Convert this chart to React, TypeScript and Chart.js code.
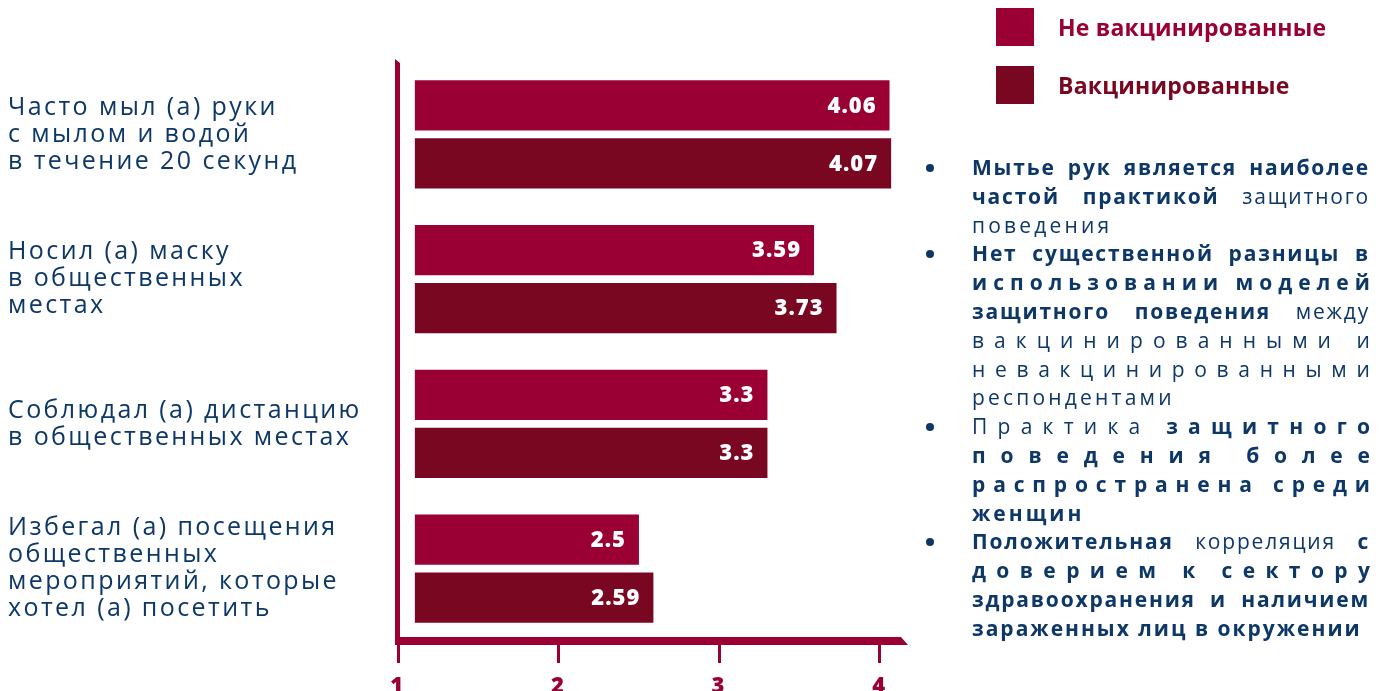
import React, { useEffect, useRef } from "react";
import { Chart, registerables } from "chart.js";

Chart.register(...registerables);

// ---------- DATA ----------
const categories: string[][] = [
  ["Часто мыл (а) руки", "с мылом и водой", "в течение 20 секунд"],
  ["Носил (а) маску", "в общественных", "местах"],
  ["Соблюдал (а) дистанцию", "в общественных местах"],
  ["Избегал (а) посещения", "общественных", "мероприятий, которые", "хотел (а) посетить"],
];
const seriesNames = ["Не вакцинированные", "Вакцинированные"];
const unvaccinated = [4.06, 3.59, 3.3, 2.5];
const vaccinated = [4.07, 3.73, 3.3, 2.59];
const xTickValues = [1, 2, 3, 4];

type Seg = [string, boolean];
type Line = { start?: boolean; mode: "word" | "char" | "left"; segs: Seg[]; ls?: number };
const bulletLines: Line[] = [
  { start: true, mode: "word", segs: [["Мытье рук является наиболее", true]] },
  { mode: "word", segs: [["частой практикой", true], [" защитного", false]] },
  { mode: "left", segs: [["поведения", false]], ls: 3.2 },
  { start: true, mode: "word", segs: [["Нет существенной разницы в", true]] },
  { mode: "char", segs: [["использовании моделей", true]] },
  { mode: "word", segs: [["защитного поведения", true], [" между", false]] },
  { mode: "char", segs: [["вакцинированными и", false]] },
  { mode: "char", segs: [["невакцинированными", false]] },
  { mode: "left", segs: [["респондентами", false]], ls: 3.2 },
  { start: true, mode: "char", segs: [["Практика ", false], ["защитного", true]] },
  { mode: "char", segs: [["поведения более", true]] },
  { mode: "char", segs: [["распространена среди", true]] },
  { mode: "left", segs: [["женщин", true]], ls: 3 },
  { start: true, mode: "word", segs: [["Положительная", true], [" корреляция ", false], ["с", true]] },
  { mode: "char", segs: [["доверием к сектору", true]] },
  { mode: "word", segs: [["здравоохранения и наличием", true]] },
  { mode: "left", segs: [["зараженных лиц в окружении", true]], ls: 2 },
];

// ---------- STYLE ----------
const CRIMSON = "#9b0035";
const DARK = "#790722";
const NAVY = "#0c3767";
const FONT = "'Open Sans', 'Noto Sans', sans-serif";

const W = 1387;
const H = 691;

const spacingPlugin = {
  id: "letterSpacing",
  beforeDraw(chart: any) {
    (chart.ctx as any).letterSpacing = "2.4px";
  },
};

const axisPlugin = {
  id: "axisLines",
  afterDatasetsDraw(chart: any) {
    const { ctx, chartArea } = chart;
    const { left, right, top, bottom } = chartArea;
    ctx.save();
    ctx.fillStyle = CRIMSON;
    // vertical axis with slanted top
    ctx.beginPath();
    ctx.moveTo(left - 3, top - 3);
    ctx.lineTo(left + 2, top + 1);
    ctx.lineTo(left + 2, bottom);
    ctx.lineTo(left - 3, bottom);
    ctx.closePath();
    ctx.fill();
    // horizontal axis with slanted end
    ctx.beginPath();
    ctx.moveTo(left - 3, bottom - 4);
    ctx.lineTo(right - 7, bottom - 4);
    ctx.lineTo(right, bottom + 4);
    ctx.lineTo(left - 3, bottom + 4);
    ctx.closePath();
    ctx.fill();
    ctx.restore();
  },
};

const valueLabelPlugin = {
  id: "valueLabels",
  afterDatasetsDraw(chart: any) {
    const { ctx } = chart;
    ctx.save();
    (ctx as any).letterSpacing = "1px";
    ctx.fillStyle = "#ffffff";
    ctx.font = `800 22px ${FONT}`;
    ctx.textAlign = "right";
    ctx.textBaseline = "middle";
    chart.data.datasets.forEach((ds: any, di: number) => {
      const meta = chart.getDatasetMeta(di);
      meta.data.forEach((bar: any, i: number) => {
        ctx.fillText(String(ds.data[i]), bar.x - 13, bar.y + 1);
      });
    });
    ctx.restore();
  },
};

function BulletLine({ line }: { line: Line }) {
  const chars: { c: string; b: boolean }[] = [];
  line.segs.forEach(([t, b]) => {
    for (const c of t) chars.push({ c, b });
  });
  const base: React.CSSProperties = {
    height: 28.8,
    lineHeight: "28.8px",
    whiteSpace: "pre",
  };
  if (line.mode === "left") {
    return (
      <div style={{ ...base, letterSpacing: line.ls ?? 2 }}>
        {line.segs.map(([t, b], i) => (
          <span key={i} style={{ fontWeight: b ? 700 : 400 }}>{t}</span>
        ))}
      </div>
    );
  }
  if (line.mode === "char") {
    return (
      <div style={{ ...base, display: "flex", justifyContent: "space-between", letterSpacing: 0 }}>
        {chars.map((ch, i) => (
          <span key={i} style={{ fontWeight: ch.b ? 700 : 400, whiteSpace: "pre" }}>{ch.c}</span>
        ))}
      </div>
    );
  }
  // word mode
  const words: { c: string; b: boolean }[][] = [];
  let cur: { c: string; b: boolean }[] = [];
  chars.forEach((ch) => {
    if (ch.c === " ") {
      if (cur.length) {
        cur.push(ch);
        words.push(cur);
        cur = [];
      }
    } else cur.push(ch);
  });
  if (cur.length) words.push(cur);
  return (
    <div style={{ ...base, display: "flex", justifyContent: "space-between" }}>
      {words.map((w, i) => (
        <span key={i} style={{ whiteSpace: "pre" }}>
          {w.map((ch, j) => (
            <span key={j} style={{ fontWeight: ch.b ? 700 : 400 }}>{ch.c}</span>
          ))}
        </span>
      ))}
    </div>
  );
}

export default function App() {
  const canvasRef = useRef<HTMLCanvasElement | null>(null);

  useEffect(() => {
    const canvas = canvasRef.current;
    if (!canvas) return;
    const chart = new Chart(canvas, {
      type: "bar",
      data: {
        labels: categories,
        datasets: [
          {
            label: seriesNames[0],
            data: unvaccinated,
            backgroundColor: CRIMSON,
            base: 1.105,
            categoryPercentage: 0.8,
            barPercentage: 0.87,
          } as any,
          {
            label: seriesNames[1],
            data: vaccinated,
            backgroundColor: DARK,
            base: 1.105,
            categoryPercentage: 0.8,
            barPercentage: 0.87,
          } as any,
        ],
      },
      options: {
        indexAxis: "y",
        responsive: false,
        animation: false,
        devicePixelRatio: 1,
        layout: { padding: { left: 8, top: 62, right: W - 908, bottom: 0 } },
        plugins: {
          legend: { display: false },
          tooltip: { enabled: false },
        },
        scales: {
          x: {
            type: "linear",
            min: 1,
            max: 4.175,
            afterBuildTicks: (scale: any) => {
              scale.ticks = xTickValues.map((v) => ({ value: v }));
            },
            afterFit: (scale: any) => {
              scale.height = 50;
            },
            border: { display: false },
            grid: {
              display: true,
              drawOnChartArea: false,
              drawTicks: true,
              tickLength: 22,
              tickWidth: 3,
              tickColor: CRIMSON,
            },
            ticks: {
              color: CRIMSON,
              font: { family: FONT, size: 22, weight: "800" },
              padding: 11,
              autoSkip: false,
              maxRotation: 0,
            },
          },
          y: {
            type: "category",
            afterFit: (scale: any) => {
              scale.width = 390;
            },
            border: { display: false },
            grid: { display: false },
            ticks: {
              crossAlign: "far",
              color: NAVY,
              padding: 0,
              font: { family: FONT, size: 25, lineHeight: 1.08 },
            },
          },
        },
      } as any,
      plugins: [spacingPlugin, axisPlugin, valueLabelPlugin],
    });
    return () => chart.destroy();
  }, []);

  const legendItems = [
    { name: seriesNames[0], color: CRIMSON, top: 8 },
    { name: seriesNames[1], color: DARK, top: 66 },
  ];

  return (
    <div
      style={{
        position: "fixed",
        left: 0,
        top: 0,
        width: W,
        height: H,
        overflow: "hidden",
        background: "#ffffff",
        fontFamily: FONT,
      }}
    >
      <canvas ref={canvasRef} width={W} height={H} style={{ position: "absolute", left: 0, top: 0 }} />
      {legendItems.map((it, i) => (
        <div key={i} style={{ position: "absolute", left: 996, top: it.top, height: 38, display: "flex", alignItems: "center" }}>
          <div style={{ width: 38, height: 38, background: it.color }} />
          <div style={{ marginLeft: 24, color: it.color, fontWeight: 700, fontSize: 23, letterSpacing: 0.2 }}>{it.name}</div>
        </div>
      ))}
      <div style={{ position: "absolute", left: 972, top: 153, width: 398, color: NAVY, fontSize: 21, letterSpacing: 1.8 }}>
        {bulletLines.map((ln, i) => (
          <div key={i} style={{ position: "relative" }}>
            {ln.start && (
              <span
                style={{
                  position: "absolute",
                  left: -46,
                  top: 11,
                  width: 8,
                  height: 8,
                  borderRadius: 4,
                  background: NAVY,
                }}
              />
            )}
            <BulletLine line={ln} />
          </div>
        ))}
      </div>
    </div>
  );
}
